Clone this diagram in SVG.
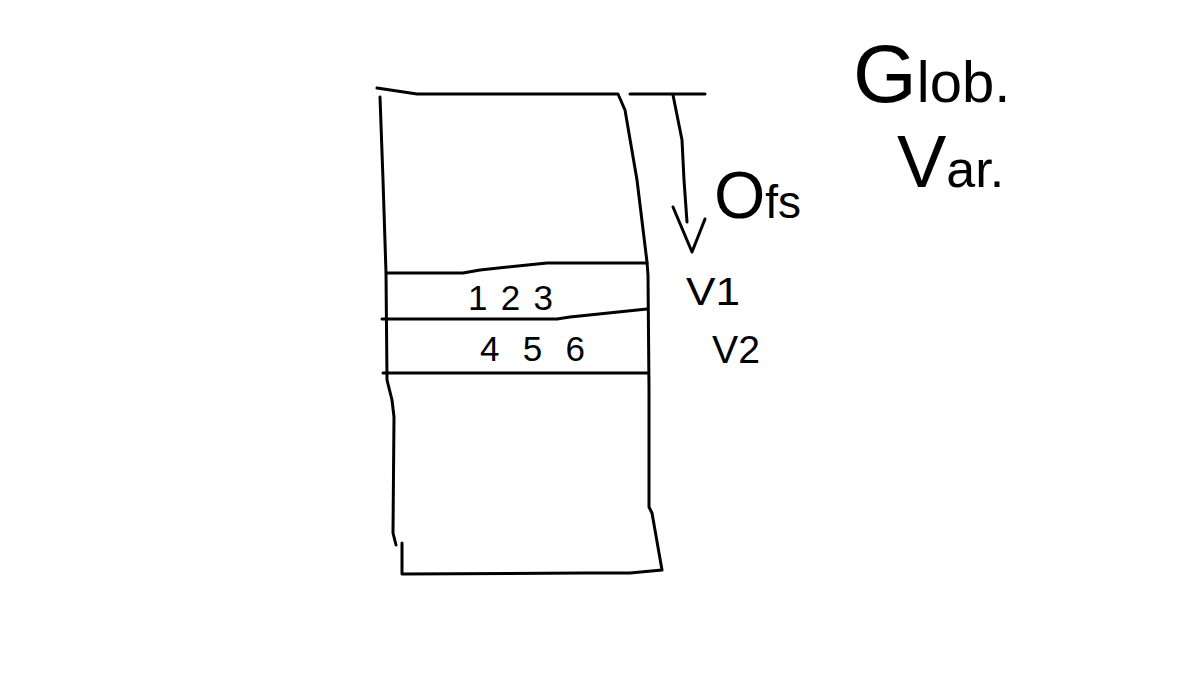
<svg xmlns="http://www.w3.org/2000/svg" width="1178" height="682" viewBox="0 0 1178 682">
<style>
.ln{fill:none;stroke:#000;stroke-width:3;stroke-linecap:round;stroke-linejoin:round}
.t{font-family:"Liberation Sans",Arial,sans-serif;fill:#000}
</style>
<rect width="1178" height="682" fill="#fff"/>
<g id="memory-block">
<path class="ln" d="M377,88 L417,94 L618,94 L625,110 L637,180 L647,262 L648,275 L649,390 L649,507 L652,513 L662,570 L630,573 L583,573 L402,574 L402,543"/>
<path class="ln" d="M380,97 L383,180 L386,273 L387,380 L392,400 L394,417 L393,533 L396,545"/>
<path class="ln" d="M387,273 L463,273 L480,270 L547,263 L647,263"/>
<path class="ln" d="M382,319 L557,319 L570,317 L647,309"/>
<path class="ln" d="M383,373 L647,373"/>
</g>
<g id="cell-v1"><text class="t" x="468" y="310" font-size="35" textLength="85" lengthAdjust="spacing">123</text></g>
<g id="cell-v2"><text class="t" x="480" y="361" font-size="35" textLength="105" lengthAdjust="spacing">456</text></g>
<g id="offset">
<path class="ln" d="M630,94 L705,94"/>
<path class="ln" d="M673,95 L682,140 L684,180 L687,222"/>
<path class="ln" d="M673,207 L692,252 L705,219"/>
<text class="t" x="714" y="218"><tspan font-size="66">O</tspan><tspan font-size="46">fs</tspan></text>
</g>
<g id="label-v1"><text class="t" x="686" y="305" font-size="38" textLength="54" lengthAdjust="spacingAndGlyphs">V1</text></g>
<g id="label-v2"><text class="t" x="712" y="363" font-size="38" textLength="48" lengthAdjust="spacingAndGlyphs">V2</text></g>
<g id="title">
<text class="t" x="853" y="102"><tspan font-size="82">G</tspan><tspan font-size="58">lob.</tspan></text>
<text class="t" x="897" y="187"><tspan font-size="74">V</tspan><tspan font-size="52">ar.</tspan></text>
</g>
</svg>
